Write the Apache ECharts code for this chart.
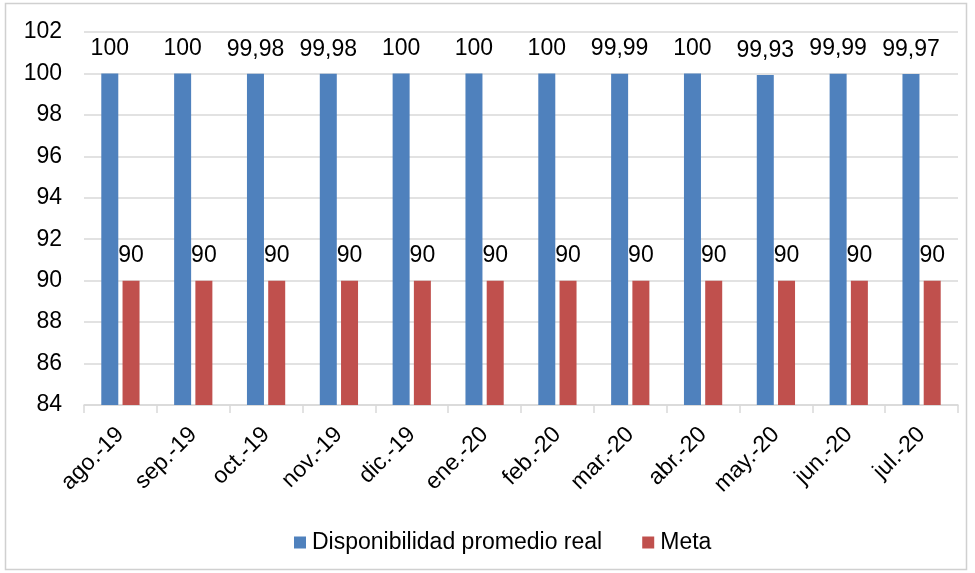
<!DOCTYPE html>
<html><head><meta charset="utf-8">
<script src="https://cdn.jsdelivr.net/npm/echarts@6/dist/echarts.min.js"></script>
<style>html,body{margin:0;padding:0;background:#fff}#c{width:975px;height:573px}</style>
</head><body><div id="c"></div>
<script>
const categories = ['ago.-19','sep.-19','oct.-19','nov.-19','dic.-19','ene.-20','feb.-20','mar.-20','abr.-20','may.-20','jun.-20','jul.-20'];
const realValues = [100,100,99.98,99.98,100,100,100,99.99,100,99.93,99.99,99.97];
const metaValues = [90,90,90,90,90,90,90,90,90,90,90,90];
const seriesNames = ['Disponibilidad promedio real','Meta'];
const fmt = v => String(v.value).replace('.', ',');
const font = '"Liberation Sans", Arial, sans-serif';
const FS = 23;
const chart = echarts.init(document.getElementById('c'), null, {renderer:'canvas'});
chart.setOption({
  animation:false,
  textStyle:{fontFamily:font},
  graphic:[{type:'rect',shape:{x:5.5,y:3.5,width:961,height:566},style:{fill:null,stroke:'#d0d0d0',lineWidth:1.5},silent:true}],
  legend:{top:526,left:289,itemWidth:12,itemHeight:12,itemGap:40,icon:'rect',
    textStyle:{fontSize:FS,color:'#000',fontFamily:font,padding:[0,0,0,1]},data:seriesNames},
  grid:{left:84,right:17,top:32,bottom:168,containLabel:false},
  xAxis:{type:'category',data:categories,
    axisLine:{lineStyle:{color:'#d9d9d9',width:1.5}},
    axisTick:{show:true,length:8,lineStyle:{color:'#d9d9d9',width:1.5}},
    axisLabel:{rotate:45,fontSize:FS,color:'#000',margin:26,fontFamily:font}},
  yAxis:{type:'value',min:84,max:102,interval:2,
    axisLine:{show:false},axisTick:{show:false},
    splitLine:{lineStyle:{color:'#d9d9d9',width:1.5}},
    axisLabel:{fontSize:FS,color:'#000',margin:22,fontFamily:font}},
  series:[
    {name:seriesNames[0],type:'bar',data:realValues,barWidth:17,barGap:'25%',
     itemStyle:{color:'#4F81BD'},
     label:{show:true,position:'top',distance:13,fontSize:FS,color:'#000',formatter:fmt,fontFamily:font}},
    {name:seriesNames[1],type:'bar',data:metaValues,barWidth:17,
     itemStyle:{color:'#C0504D'},
     label:{show:true,position:'top',distance:14,fontSize:FS,color:'#000',formatter:fmt,fontFamily:font}}
  ]
});
</script></body></html>
